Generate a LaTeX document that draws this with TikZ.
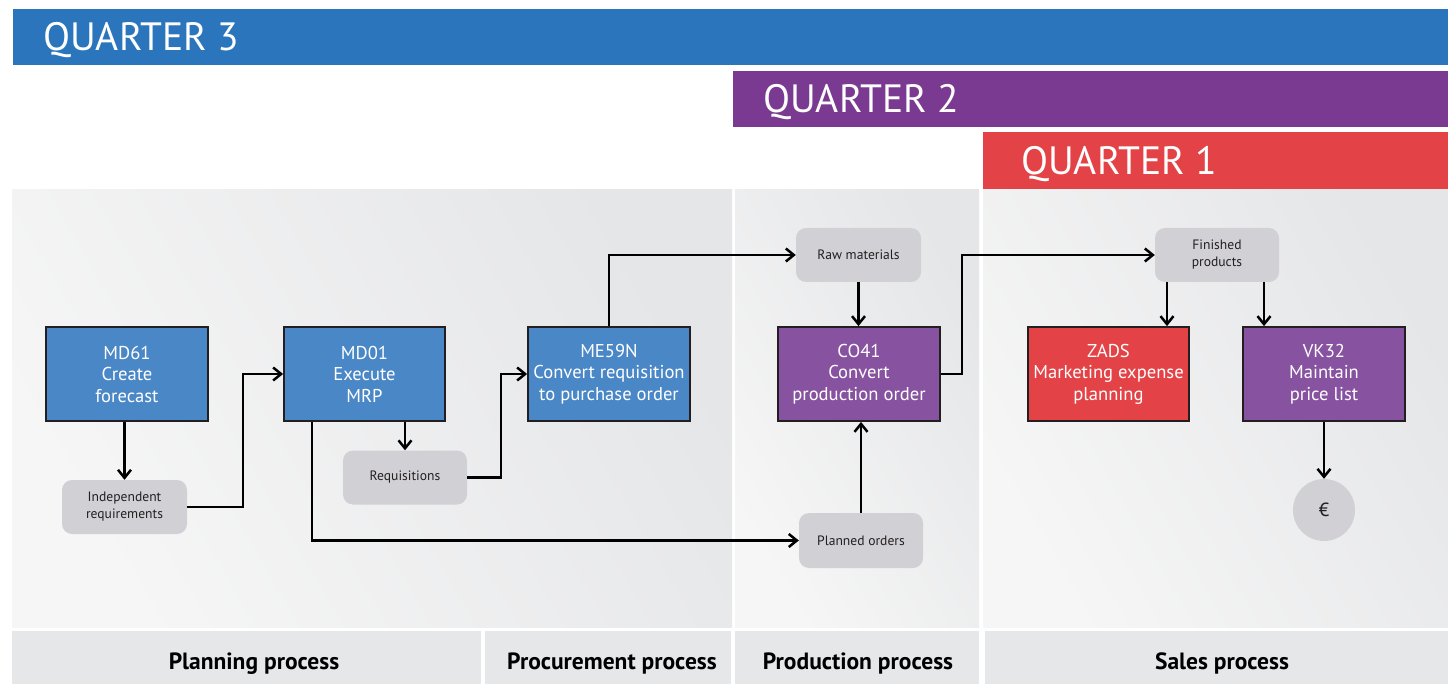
\documentclass[tikz,border=0pt]{standalone}
\usepackage{fontspec}
\setmainfont{PT Sans}
\usetikzlibrary{arrows.meta}

\definecolor{qblue}{HTML}{2A75BB}
\definecolor{qpurple}{HTML}{7B3A91}
\definecolor{qred}{HTML}{E34346}
\definecolor{boxblue}{HTML}{4A87C6}
\definecolor{boxpurple}{HTML}{8752A0}
\definecolor{boxred}{HTML}{E34346}
\definecolor{objgray}{HTML}{D1D0D5}
\definecolor{inkdark}{HTML}{231F20}
\definecolor{panellight}{HTML}{F6F6F6}
\definecolor{paneldark}{HTML}{E5E6E8}
\definecolor{stripgray}{HTML}{E6E7E9}

\tikzset{
  quartertext/.style={anchor=base west, inner sep=0pt, text=white, font=\fontsize{39.5}{42}\selectfont},
  panel/.style={left color=panellight, right color=paneldark, shading angle=120, draw=none},
  strip/.style={fill=stripgray, draw=none},
  striplabel/.style={anchor=base, inner sep=0pt, text=black, font=\bfseries\fontsize{23.5}{26}\selectfont},
  txbox/.style={draw=inkdark, line width=1.8pt, minimum width=162pt, minimum height=94pt,
    text=white, align=center, inner sep=2pt, font=\fontsize{18.6}{21.5}\selectfont},
  objbox/.style={fill=objgray, draw=none, rounded corners=10pt, minimum width=124pt,
    minimum height=54pt, align=center, text=inkdark, inner sep=2pt,
    font=\fontsize{13.6}{17}\selectfont},
  arr/.style={line width=2.5pt, draw=black, -{Straight Barb[length=8pt,width=13pt]}},
}

\begin{document}
\begin{tikzpicture}[x=1pt, y=-1pt]
  \useasboundingbox (0,0) rectangle (1448,684);
  \fill[white] (0,0) rectangle (1448,684);

  % quarter banners
  \fill[qblue] (13,9) rectangle (1448,65);
  \fill[qpurple] (733,71) rectangle (1448,127);
  \fill[qred] (983,132) rectangle (1448,189);
  \node[quartertext] (q3) at (43,51) {QUARTER 3};
  \node[quartertext] (q2) at (763,113) {QUARTER 2};
  \node[quartertext] (q1) at (1021,175) {QUARTER 1};

  % process panels
  \shade[panel] (12,190) rectangle (732,627);
  \shade[panel] (735,190) rectangle (979,627);
  \shade[panel] (983,190) rectangle (1448,627);

  % process label strip
  \fill[strip] (12,631) rectangle (481,684);
  \fill[strip] (485,631) rectangle (731,684);
  \fill[strip] (735,631) rectangle (979,684);
  \fill[strip] (985,631) rectangle (1448,684);
  \node[striplabel] (lplan) at (254,669) {Planning process};
  \node[striplabel] (lproc) at (612,669) {Procurement process};
  \node[striplabel] (lprod) at (858,669) {Production process};
  \node[striplabel] (lsales) at (1222,669) {Sales process};

  % transactions
  \node[txbox, fill=boxblue] (md61) at (127,374) {MD61\\Create\\forecast};
  \node[txbox, fill=boxblue, minimum width=161pt] (md01) at (364.5,374) {MD01\\Execute\\MRP};
  \node[txbox, fill=boxblue] (me59n) at (609,374) {ME59N\\Convert requisition\\to purchase order};
  \node[txbox, fill=boxpurple] (co41) at (859,374) {CO41\\Convert\\production order};
  \node[txbox, fill=boxred, minimum width=161pt] (zads) at (1108.5,374) {ZADS\\Marketing expense\\planning};
  \node[txbox, fill=boxpurple] (vk32) at (1324,374) {VK32\\Maintain\\price list};

  % objects
  \node[objbox, minimum width=125pt] (indep) at (124.5,507) {Independent\\requirements};
  \node[objbox] (req) at (405,477.5) {Requisitions};
  \node[objbox, minimum width=125pt] (raw) at (858.5,255) {Raw materials};
  \node[objbox, minimum height=55pt] (planned) at (861,540.5) {Planned orders};
  \node[objbox] (fin) at (1217,255) {Finished\\products};
  \node[circle, fill=objgray, minimum size=62pt, inner sep=0pt, text=inkdark,
        font=\fontsize{19}{22}\selectfont] (euro) at (1324,510) {€};

  % flows
  \draw[arr] (indep.north |- md61.south) -- (indep.north);
  \draw[arr] (indep.east) -- (243,507) |- (md01.west);
  \draw[arr] (req.north |- md01.south) -- (req.north);
  \draw[arr] ([xshift=-52.5pt]md01.south) |- (planned.west);
  \draw[arr] (req.east) -- (501,477.5) |- (me59n.west);
  \draw[arr] (me59n.north) |- (raw.west);
  \draw[arr] (raw.south) -- (raw.south |- co41.north);
  \draw[arr] (planned.north) -- (planned.north |- co41.south);
  \draw[arr] (co41.east) -- (962,374) |- (fin.west);
  \draw[arr] ([xshift=-50pt]fin.south) -- ([xshift=-50pt]fin.south |- zads.north);
  \draw[arr] ([xshift=47pt]fin.south) -- ([xshift=47pt]fin.south |- vk32.north);
  \draw[arr] (vk32.south) -- (euro.north);
\end{tikzpicture}
\end{document}
